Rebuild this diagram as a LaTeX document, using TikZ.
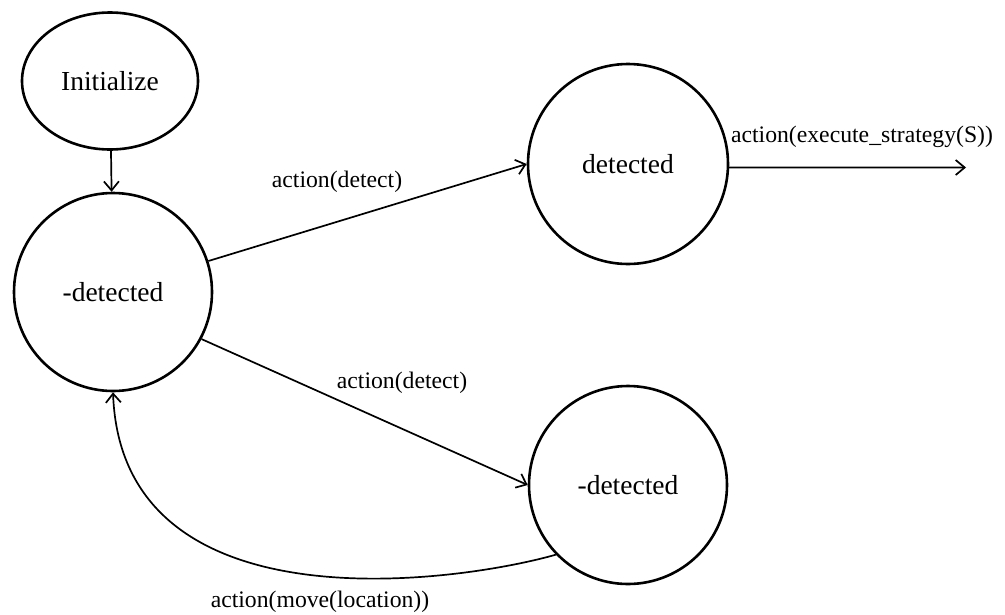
\documentclass[tikz,border=0pt]{standalone}
\usepackage{fontspec}
\setmainfont{Liberation Serif}
\usetikzlibrary{arrows.meta,shapes.geometric}
\tikzset{
  state/.style={draw=black, line width=2.6pt, circle, minimum size=198pt, inner sep=0pt,
    font=\fontsize{27.5}{30}\selectfont},
  startstate/.style={draw=black, line width=2.6pt, ellipse, minimum width=176pt, minimum height=137pt, inner sep=0pt,
    font=\fontsize{27.5}{30}\selectfont},
  trans/.style={draw=black, line width=1.7pt, -{Straight Barb[length=9pt,width=15pt,line width=1.7pt]}},
  lbl/.style={inner sep=0pt, font=\fontsize{23.7}{26}\selectfont}
}
\begin{document}
\begin{tikzpicture}[x=1pt, y=-1pt]
  \fill[white] (0,0) rectangle (1005,614);
  \useasboundingbox (0,0) rectangle (1005,614);

  \node[startstate] (init) at (110,81) {Initialize};
  \node[state] (nd1) at (113,292) {-detected};
  \node[state, minimum size=200pt] (det) at (628,164) {detected};
  \node[state] (nd2) at (628,485) {-detected};
  \coordinate (out) at (966,167.5);

  \draw[trans] (init) -- (nd1);
  \draw[trans] (nd1.18) -- (det.180);
  \draw[trans] (nd1.-28.5) -- (nd2.180);
  \draw[trans] (det.-2) -- (out);
  \draw[trans] (nd2.224) .. controls (460,582) and (122,632) .. (nd1.270);

  \node[lbl] (l1) at (337,182) {action(detect)};
  \node[lbl] (l2) at (402,383) {action(detect)};
  \node[lbl] (l3) at (862,137) {action(execute\_strategy(S))};
  \node[lbl] (l4) at (320,602) {action(move(location))};
\end{tikzpicture}
\end{document}
